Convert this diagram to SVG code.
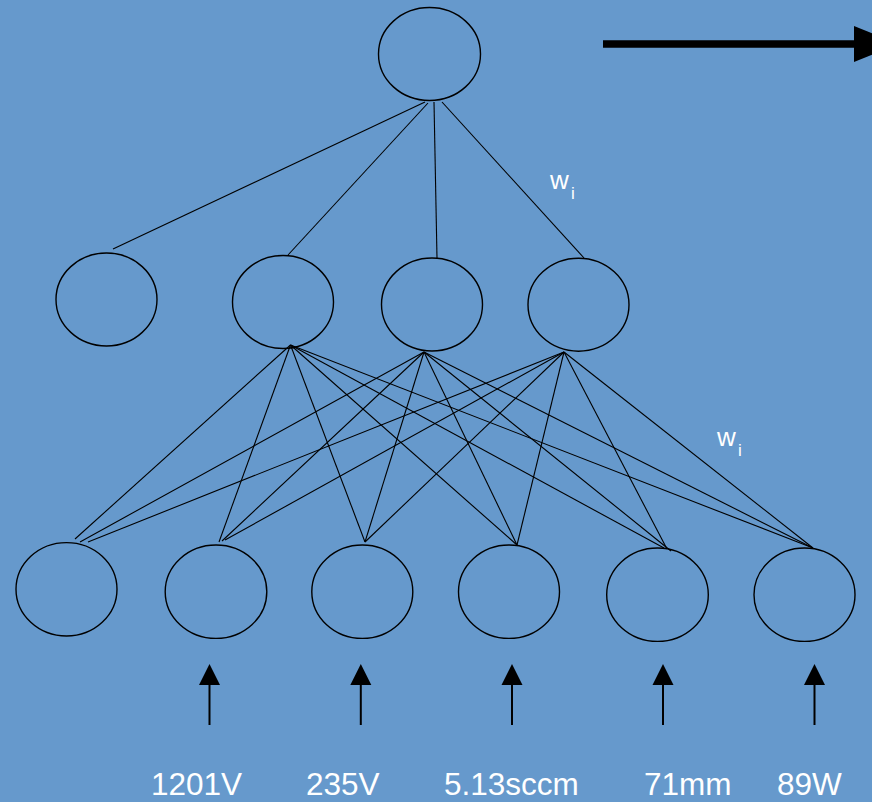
<svg xmlns="http://www.w3.org/2000/svg" width="872" height="802" viewBox="0 0 872 802">
<style>
.node{fill:none;stroke:#000;stroke-width:1.4}
.conn line{stroke:#000;stroke-width:1.1}
.lbl{font-family:"Liberation Sans",Arial,sans-serif;fill:#fff}
.in line{stroke:#000;stroke-width:2}
</style>
<rect width="872" height="802" fill="#6699CC"/>

<g id="out-arrow">
<line x1="603" y1="44" x2="856" y2="44" stroke="#000" stroke-width="7.5"/>
<path d="M854,26 L898,44 L854,62 Z" fill="#000"/>
</g>

<g id="top"><ellipse class="node" cx="429.5" cy="54" rx="51" ry="46.5"/></g>
<g id="h1"><ellipse class="node" cx="106.5" cy="299.5" rx="50.5" ry="46.5"/></g>
<g id="h2"><ellipse class="node" cx="283" cy="302" rx="50.5" ry="46.5"/></g>
<g id="h3"><ellipse class="node" cx="432" cy="304.5" rx="50.5" ry="46.5"/></g>
<g id="h4"><ellipse class="node" cx="578.5" cy="304.7" rx="50.5" ry="46.5"/></g>
<g id="i1"><ellipse class="node" cx="66.5" cy="589.3" rx="50.5" ry="46.7"/></g>
<g id="i2"><ellipse class="node" cx="216" cy="591.7" rx="50.8" ry="46.7"/></g>
<g id="i3"><ellipse class="node" cx="362.3" cy="591.7" rx="50.5" ry="46.7"/></g>
<g id="i4"><ellipse class="node" cx="509" cy="591.7" rx="50.5" ry="46.7"/></g>
<g id="i5"><ellipse class="node" cx="657.5" cy="594.7" rx="50.8" ry="46.7"/></g>
<g id="i6"><ellipse class="node" cx="804.5" cy="594.7" rx="50.5" ry="46.7"/></g>

<g id="connectors" class="conn">
<line x1="425" y1="102" x2="113" y2="249"/>
<line x1="428" y1="103" x2="288" y2="255"/>
<line x1="434" y1="102" x2="437" y2="258"/>
<line x1="442" y1="102" x2="584" y2="258"/>

<line x1="290.5" y1="345" x2="75" y2="539"/>
<line x1="290.5" y1="345" x2="219" y2="542"/>
<line x1="290.5" y1="345" x2="365" y2="542"/>
<line x1="290.5" y1="345" x2="517" y2="545"/>
<line x1="290.5" y1="345" x2="664" y2="548"/>
<line x1="290.5" y1="345" x2="813" y2="548"/>

<line x1="424" y1="352" x2="80" y2="542"/>
<line x1="424" y1="352" x2="222" y2="541"/>
<line x1="424" y1="352" x2="365" y2="542"/>
<line x1="424" y1="352" x2="517" y2="545"/>
<line x1="424" y1="352" x2="671" y2="551"/>
<line x1="424" y1="352" x2="813" y2="548"/>

<line x1="564" y1="352" x2="88" y2="542"/>
<line x1="564" y1="352" x2="225" y2="540"/>
<line x1="564" y1="352" x2="365" y2="542"/>
<line x1="564" y1="352" x2="517" y2="545"/>
<line x1="564" y1="352" x2="667" y2="549"/>
<line x1="564" y1="352" x2="813" y2="548"/>
</g>

<g id="input-arrows" class="in">
<line x1="209.5" y1="725" x2="209.5" y2="684"/>
<line x1="360.8" y1="725" x2="360.8" y2="684"/>
<line x1="512" y1="725" x2="512" y2="684"/>
<line x1="663" y1="725" x2="663" y2="684"/>
<line x1="814.5" y1="725" x2="814.5" y2="684"/>
<path d="M199,685 L209.5,664 L220,685 Z" fill="#000" stroke="none"/>
<path d="M350.3,685 L360.8,664 L371.3,685 Z" fill="#000" stroke="none"/>
<path d="M501.5,685 L512,664 L522.5,685 Z" fill="#000" stroke="none"/>
<path d="M652.5,685 L663,664 L673.5,685 Z" fill="#000" stroke="none"/>
<path d="M804,685 L814.5,664 L825,685 Z" fill="#000" stroke="none"/>
</g>

<g id="weights" class="lbl">
<text x="550" y="188.5" font-size="26">w</text><text x="571" y="199" font-size="17">i</text>
<text x="717" y="446" font-size="26">w</text><text x="738" y="455.5" font-size="17">i</text>
</g>

<g id="labels" class="lbl" font-size="31.5">
<text x="151" y="795">1201V</text>
<text x="306" y="795">235V</text>
<text x="444" y="795">5.13sccm</text>
<text x="644" y="795">71mm</text>
<text x="777" y="795">89W</text>
</g>
</svg>
